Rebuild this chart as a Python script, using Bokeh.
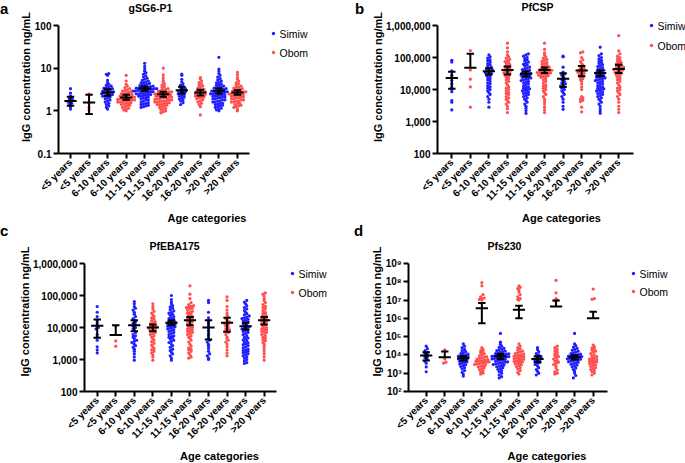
import math
from bokeh.plotting import figure
from bokeh.models import Range1d, FixedTicker, Title, Div
from bokeh.core.properties import value
from bokeh.layouts import column, row
from bokeh.embed import file_html
from bokeh.resources import INLINE

# ---------------- data ----------------
age_labels = ["<5 years", "<5 years", "6-10 years", "6-10 years", "11-15 years",
              "11-15 years", "16-20 years", "16-20 years", ">20 years", ">20 years"]
series_names = ["Simiw", "Obom"]

# gSG6-P1 (ng/mL); per age group: <5, 6-10, 11-15, 16-20, >20
gsg6_simiw = [
    [3.3, 2.6, 2.2, 2.0, 1.9, 1.8, 1.7, 1.6, 1.5, 1.4, 1.25, 1.1],
    [7.5, 7.2, 6.8, 5.2, 4.6, 4.2, 4.0, 3.8, 3.6, 3.5, 3.4, 3.3, 3.2, 3.1, 3.0, 2.9, 2.8, 2.8, 2.7,
     2.6, 2.6, 2.5, 2.4, 2.4, 2.3, 2.2, 2.2, 2.1, 2.0, 1.9, 1.8, 1.7, 1.6, 1.5, 1.4, 1.3, 1.2, 1.1],
    [13, 11, 9.5, 8.5, 7.8, 7.2, 6.6, 6.2, 5.8, 5.5, 5.2, 5.0, 4.8, 4.6, 4.5, 4.4, 4.2, 4.1, 4.0,
     3.9, 3.8, 3.7, 3.6, 3.6, 3.5, 3.5, 3.4, 3.4, 3.3, 3.3, 3.2, 3.2, 3.1, 3.1, 3.0, 3.0, 3.0, 2.9,
     2.9, 2.8, 2.8, 2.7, 2.7, 2.6, 2.6, 2.5, 2.5, 2.4, 2.4, 2.3, 2.3, 2.2, 2.2, 2.1, 2.0, 2.0, 1.9,
     1.8, 1.8, 1.7, 1.6, 1.55, 1.5, 1.45, 1.4, 1.35, 1.3, 1.25, 1.2],
    [7.3, 6.8, 5.5, 4.8, 4.3, 4.0, 3.7, 3.5, 3.3, 3.2, 3.0, 2.9, 2.8, 2.7, 2.6, 2.5, 2.4, 2.3, 2.2,
     2.1, 2.0, 1.9, 1.8, 1.7, 1.55, 1.4],
    [18, 9.5, 8.5, 7.5, 6.8, 6.2, 5.7, 5.3, 5.0, 4.7, 4.5, 4.3, 4.1, 4.0, 3.8, 3.7, 3.6, 3.5, 3.4,
     3.3, 3.2, 3.1, 3.0, 3.0, 2.9, 2.9, 2.8, 2.8, 2.7, 2.7, 2.6, 2.6, 2.5, 2.5, 2.4, 2.4, 2.3, 2.3,
     2.2, 2.2, 2.1, 2.1, 2.0, 2.0, 1.9, 1.9, 1.8, 1.8, 1.7, 1.7, 1.6, 1.6, 1.5, 1.5, 1.45, 1.4,
     1.35, 1.3, 1.25, 1.2, 1.15, 1.1, 1.05, 1.0],
]
gsg6_obom = [
    [2.5, 1.5, 1.2, 1.05],
    [6.8, 5.0, 4.2, 3.8, 3.5, 3.3, 3.1, 3.0, 2.9, 2.8, 2.7, 2.6, 2.5, 2.5, 2.4, 2.4, 2.3, 2.3, 2.2,
     2.2, 2.1, 2.1, 2.0, 2.0, 1.95, 1.9, 1.9, 1.85, 1.8, 1.8, 1.75, 1.7, 1.7, 1.65, 1.6, 1.6, 1.55,
     1.5, 1.5, 1.45, 1.4, 1.35, 1.3, 1.25, 1.2, 1.15, 1.1, 1.05, 1.0],
    [10, 7.0, 6.0, 5.2, 4.7, 4.3, 4.0, 3.7, 3.5, 3.3, 3.2, 3.1, 3.0, 2.9, 2.8, 2.8, 2.7, 2.7, 2.6,
     2.6, 2.5, 2.5, 2.4, 2.4, 2.3, 2.3, 2.2, 2.2, 2.2, 2.1, 2.1, 2.0, 2.0, 2.0, 1.9, 1.9, 1.85, 1.8,
     1.8, 1.75, 1.7, 1.7, 1.65, 1.6, 1.6, 1.55, 1.5, 1.5, 1.45, 1.4, 1.4, 1.35, 1.3, 1.25, 1.2, 1.15,
     1.1, 1.05, 1.0, 0.95, 0.9],
    [6.0, 5.6, 5.0, 4.6, 4.3, 4.0, 3.8, 3.6, 3.4, 3.2, 3.1, 3.0, 2.9, 2.8, 2.7, 2.6, 2.6, 2.5, 2.4,
     2.4, 2.3, 2.2, 2.2, 2.1, 2.0, 2.0, 1.9, 1.8, 1.7, 1.6, 1.5, 1.4, 1.25, 0.8],
    [8.0, 7.0, 6.0, 5.5, 5.0, 4.6, 4.3, 4.0, 3.8, 3.6, 3.5, 3.4, 3.3, 3.2, 3.1, 3.0, 2.9, 2.8, 2.8,
     2.7, 2.7, 2.6, 2.6, 2.5, 2.5, 2.4, 2.4, 2.3, 2.3, 2.2, 2.2, 2.1, 2.1, 2.0, 2.0, 1.9, 1.9, 1.8,
     1.8, 1.7, 1.7, 1.6, 1.6, 1.5, 1.5, 1.4, 1.35, 1.3, 1.25, 1.2, 1.1, 1.0],
]
gsg6_mean = [1.71, 1.57, 2.69, 2.05, 3.33, 2.46, 3.05, 2.69, 2.94, 2.69]
gsg6_lo = [1.31, 0.84, 2.25, 1.81, 2.94, 2.13, 2.55, 2.29, 2.55, 2.37]
gsg6_hi = [2.13, 2.37, 3.2, 2.37, 3.7, 2.79, 3.65, 3.1, 3.33, 3.05]

# PfCSP
csp_simiw = [
    [82000, 72000, 38000, 28000, 24000, 19000, 15000, 12000, 10000, 8500, 4500, 4000, 2300],
    [120000, 105000, 95000, 85000, 80000, 72000, 65000, 60000, 55000, 50000, 47000, 44000, 41000,
     38000, 36000, 34000, 32000, 30000, 28000, 26000, 24000, 22000, 20000, 18000, 16000, 15000,
     13000, 12000, 11000, 10000, 9000, 8000, 7000, 6000, 5000, 4000, 2800],
    [130000, 120000, 110000, 100000, 92000, 85000, 78000, 72000, 66000, 62000, 58000, 54000, 50000,
     47000, 44000, 42000, 40000, 38000, 36000, 34000, 32000, 31000, 30000, 29000, 28000, 27000,
     26000, 25000, 24000, 23000, 22000, 21000, 20000, 19000, 18000, 17000, 16000, 15000, 14000,
     13000, 12000, 11500, 11000, 10500, 10000, 9500, 9000, 8500, 8000, 7500, 7000, 6500, 6000,
     5500, 5000, 4500, 4000, 3500, 3000, 2600, 2200, 1800],
    [110000, 105000, 50000, 35000, 30000, 28000, 25000, 22000, 20000, 18000, 16000, 15000, 14000,
     13000, 12000, 11000, 10000, 9000, 8000, 7000, 6000, 5000, 4000, 3000, 2400],
    [210000, 130000, 115000, 100000, 90000, 82000, 75000, 70000, 65000, 60000, 56000, 52000, 48000,
     45000, 42000, 40000, 38000, 36000, 34000, 32000, 30000, 29000, 28000, 27000, 26000, 25000,
     24000, 23000, 22000, 21000, 20000, 19000, 18000, 17000, 16000, 15000, 14000, 13000, 12000,
     11500, 11000, 10500, 10000, 9500, 9000, 8500, 8000, 7500, 7000, 6500, 6000, 5500, 5000, 4500,
     4000, 3500, 3000, 2500, 2100, 1800],
]
csp_obom = [
    [165000, 41000, 21000, 12000, 2800],
    [280000, 200000, 150000, 120000, 105000, 95000, 88000, 80000, 75000, 70000, 65000, 60000, 56000,
     52000, 48000, 45000, 42000, 40000, 38000, 36000, 34000, 32000, 30000, 28000, 26000, 24000,
     22000, 20000, 18000, 16000, 14000, 12000, 11000, 10000, 9000, 8000, 7500, 7000, 6000, 5500,
     5000, 4500, 4000, 3500, 3000, 2500, 1900],
    [280000, 180000, 140000, 120000, 105000, 95000, 88000, 82000, 76000, 70000, 66000, 62000, 58000,
     55000, 52000, 50000, 48000, 46000, 44000, 42000, 40000, 39000, 38000, 37000, 36000, 35000,
     34000, 33000, 32000, 31000, 30000, 29000, 28000, 27000, 26000, 25000, 24000, 22000, 20000,
     18000, 16000, 14000, 13000, 12000, 11000, 10000, 9000, 8000, 7000, 6000, 5000, 4200, 3500,
     2800, 2300, 1900],
    [150000, 140000, 100000, 85000, 75000, 65000, 58000, 52000, 48000, 45000, 42000, 40000, 38000,
     36000, 34000, 32000, 30000, 28000, 26000, 24000, 22000, 20000, 18000, 15000, 12000, 10000,
     6000, 5500, 5000, 4600, 4200, 2800, 2000],
    [480000, 160000, 130000, 110000, 100000, 90000, 82000, 76000, 70000, 66000, 62000, 58000, 55000,
     52000, 50000, 48000, 46000, 44000, 42000, 40000, 38000, 36000, 34000, 32000, 30000, 28000,
     26000, 24000, 22000, 20000, 18000, 16000, 14000, 12000, 11000, 10000, 9000, 8000, 7000, 6000,
     5000, 4000, 3000, 2400, 1900],
]
csp_mean = [23000, 48000, 37500, 41000, 31000, 41000, 21500, 39000, 32500, 44000]
csp_lo = [10500, None, 29500, 29500, 25500, 33000, 12000, 26000, 26000, 33000]
csp_hi = [36000, 130000, 46000, 52000, 36500, 49000, 32000, 54000, 39000, 59000]

# PfEBA175
eba_simiw = [
    [45000, 30000, 22000, 17000, 14000, 12000, 10000, 9000, 6000, 5000, 4000, 2500, 2000, 1600],
    [65000, 55000, 45000, 40000, 35000, 30000, 26000, 22000, 19000, 17000, 15000, 13500, 12000,
     11000, 10000, 9000, 8000, 7000, 6000, 5500, 5000, 4500, 4000, 3700, 3400, 3000, 2700, 2400,
     2100, 1800, 1500, 1200, 950],
    [100000, 75000, 62000, 55000, 48000, 44000, 40000, 36000, 33000, 30000, 28000, 26000, 24000,
     22000, 20000, 19000, 18000, 17000, 16000, 15000, 14000, 13500, 13000, 12500, 12000, 11500,
     11000, 10500, 10000, 9500, 9000, 8500, 8000, 7500, 7000, 6500, 6000, 5500, 5200, 5000, 4700,
     4400, 4000, 3700, 3400, 3000, 2700, 2400, 2100, 1900, 1700, 1500, 1300, 1100, 950],
    [70000, 60000, 30000, 20000, 16000, 14000, 12000, 10000, 8000, 6500, 5500, 4500, 4000, 3500,
     3000, 2600, 2200, 1800, 1500, 1300, 1100, 1000],
    [70000, 62000, 55000, 48000, 42000, 38000, 34000, 30000, 27000, 25000, 23000, 21000, 20000,
     19000, 18000, 17000, 16000, 15000, 14000, 13000, 12000, 11000, 10500, 10000, 9500, 9000, 8500,
     8000, 7500, 7000, 6500, 6000, 5500, 5000, 4700, 4400, 4100, 3800, 3500, 3300, 3100, 2900,
     2700, 2500, 2300, 2100, 2000, 1900, 1800, 1700, 1600, 1500, 1400, 1300, 1200, 1100, 1000, 900,
     800, 750],
]
eba_obom = [
    [11000, 3800, 2600],
    [55000, 45000, 38000, 32000, 28000, 25000, 22000, 20000, 18000, 16500, 15000, 14000, 13000,
     12000, 11500, 11000, 10500, 10000, 9500, 9000, 8500, 8000, 7500, 7000, 6500, 6000, 5500, 5000,
     4500, 4000, 3600, 3200, 2800, 2500, 2200, 2000, 1800, 1600, 1400, 1200, 950],
    [200000, 110000, 80000, 60000, 52000, 48000, 46000, 44000, 42000, 40000, 38000, 35000, 32000,
     30000, 28000, 26000, 24000, 22000, 20000, 19000, 18000, 17000, 16000, 15000, 14000, 13000,
     12000, 11000, 10000, 9500, 9000, 8500, 8000, 7500, 7000, 6500, 6000, 5500, 5000, 4500, 4000,
     3500, 3000, 2600, 2300, 2100, 2000, 1800, 1600, 1400, 1200, 1100],
    [90000, 70000, 45000, 35000, 28000, 24000, 21000, 19000, 17000, 15000, 14000, 13000, 12000,
     11000, 10000, 9000, 8500, 8000, 7500, 7000, 6000, 5000, 4500, 4000, 3500, 3000, 2500, 2000,
     1600, 1300],
    [120000, 110000, 95000, 80000, 70000, 60000, 52000, 46000, 42000, 38000, 34000, 30000, 28000,
     26000, 24000, 22000, 20000, 19000, 18000, 17000, 16000, 15000, 14000, 13000, 12000, 11000,
     10000, 9500, 9000, 8500, 8000, 7500, 7000, 6500, 6000, 5500, 5000, 4600, 4200, 3800, 3400,
     3000, 2600, 2200, 1800, 1500, 1200, 950],
]
eba_mean = [11300, 5800, 11800, 10000, 14000, 16900, 10000, 14000, 11000, 16900]
eba_lo = [4800, None, 7700, 7700, 11800, 11800, 4200, 7300, 8700, 12400]
eba_hi = [17700, 11800, 16900, 12400, 16500, 21400, 16900, 20000, 14000, 21400]

# Pfs230
s230_simiw = [
    [30000, 22000, 17000, 14000, 12000, 10000, 9000, 8000, 7000, 5500, 4500, 3500, 2200, 1200],
    [40000, 30000, 25000, 20000, 17000, 15000, 13000, 12000, 11000, 10000, 9500, 9000, 8500, 8000,
     7500, 7000, 6500, 6000, 5500, 5000, 4700, 4400, 4100, 3800, 3500, 3200, 2900, 2600, 2300,
     2000, 1700, 1400, 1100, 900, 700],
    [150000, 50000, 38000, 30000, 26000, 23000, 21000, 19000, 17000, 16000, 15000, 14000, 13000,
     12000, 11500, 11000, 10500, 10000, 9500, 9000, 8700, 8400, 8100, 7800, 7500, 7200, 6900, 6600,
     6300, 6000, 5700, 5400, 5100, 4800, 4500, 4200, 4000, 3800, 3600, 3400, 3200, 3000, 2800,
     2600, 2400, 2200, 2000, 1800, 1600, 1400, 1200, 1000, 800, 650, 550],
    [25000, 20000, 15000, 12000, 10000, 9000, 8000, 7000, 6500, 6000, 5500, 5000, 4500, 4000, 3500,
     3000, 2500, 2000, 1600, 1300, 1000, 800],
    [150000, 40000, 32000, 27000, 23000, 20000, 18000, 16000, 14500, 13000, 12000, 11000, 10500,
     10000, 9500, 9000, 8600, 8200, 7800, 7400, 7000, 6700, 6400, 6100, 5800, 5500, 5200, 4900,
     4600, 4300, 4000, 3700, 3400, 3100, 2800, 2500, 2200, 1900, 1600, 1300, 1000, 750, 550],
]
s230_obom = [
    [19000, 6000, 4000, 3600],
    [90000000, 60000000, 20000000, 15000000, 13000000, 12000000, 11000000, 10000000,
     25000, 20000, 17000, 15000, 13000, 11500, 10000, 9000, 8000, 7500, 7000, 6500, 6000, 5500,
     5200, 5000, 4800, 4600, 4400, 4200, 4000, 3800, 3600, 3400, 3200, 3000, 2800, 2600, 2400,
     2200, 2000, 1800, 1600, 1400, 1200, 1000, 900],
    [60000000, 50000000, 42000000, 35000000, 28000000, 20000000, 15000000, 12000000, 11000000,
     10000000, 40000, 30000, 25000, 21000, 18000, 16000, 14500, 13000, 12000, 11000, 10000, 9500,
     9000, 8500, 8000, 7500, 7000, 6600, 6200, 5800, 5400, 5000, 4700, 4400, 4100, 3800, 3500,
     3200, 2900, 2600, 2300, 2000, 1700, 1400, 1100, 900],
    [120000000, 25000000, 12000000, 10000000, 9000000, 30000, 25000, 20000, 17000, 14000, 12000,
     10000, 9000, 8000, 7000, 6000, 5000, 4500, 4000, 3500, 3000, 2500, 2000, 1500, 1200, 1000, 900],
    [40000000, 12000000, 11000000, 35000, 28000, 24000, 21000, 18000, 16000, 14000, 12000, 10000,
     9000, 8000, 7000, 6500, 6000, 5500, 5000, 4700, 4400, 4100, 3800, 3500, 3200, 2900, 2600,
     2300, 2000, 1800, 1600, 1400, 1200, 1000, 800],
]
s230_mean = [9200, 7500, 6600, 3600000, 8400, 3000000, 6000, 4500000, 7500, 1000000]
s230_lo = [4900, None, 4900, 540000, 6000, 1000000, 4000, None, 5600, None]
s230_hi = [14000, 15200, 8400, 6900000, 11300, 4900000, 8400, 9600000, 9600, 2300000]

gsg6_ticks = [0.1, 1, 10, 100]
gsg6_tick_labels = ["0.1", "1", "10", "100"]
big_ticks = [100, 1000, 10000, 100000, 1000000]
big_tick_labels = ["100", "1,000", "10,000", "100,000", "1,000,000"]
s230_ticks = [1e2, 1e3, 1e4, 1e5, 1e6, 1e7, 1e8, 1e9]
s230_tick_labels = ["10²", "10³", "10⁴", "10⁵", "10⁶", "10⁷", "10⁸", "10⁹"]

# ---------------- styling / layout ----------------
FONT = "Liberation Sans"
BLUE = "#1f1fff"
RED = "#ff4f4f"
PPU = 18.55  # px per category


def swarm(values, center, ylog0, ppd, row_px=2.7, dx_px=2.4):
    """Prism-like scatter-dot layout: points in the same pixel row are spread sideways."""
    bins = {}
    for v in values:
        ypx = (math.log10(v) - ylog0) * ppd
        bins.setdefault(int(ypx // row_px), []).append(v)
    xs, ys = [], []
    for k in sorted(bins):
        grp = sorted(bins[k])
        n = len(grp)
        for i, v in enumerate(grp):
            xs.append(center + (i - (n - 1) / 2.0) * dx_px / PPU)
            ys.append(v)
    return xs, ys


def make_panel(c):
    fx, fy = c["fig_xy"]            # page position of the canvas
    w, h = c["size"]
    bl, bb = c["border_lb"]
    f_left, f_right = fx + bl, fx + w
    f_top, f_bottom = fy, fy + h - bb
    ticks, tlabels = c["yticks"]
    ylo, yhi = ticks[0], ticks[-1]
    ppd = (f_bottom - c["yhi_page"]) / (math.log10(yhi) - math.log10(ylo))
    x0 = 1 - (c["tick1_page"] - f_left) / PPU
    x1 = x0 + (f_right - f_left) / PPU
    xaxis_end = 1 + (c["axis_end_page"] - c["tick1_page"]) / PPU
    y_end = 10 ** (math.log10(yhi) + (c["yhi_page"] - f_top) / ppd)

    def to_data(px, py):
        return x0 + (px - f_left) / PPU, 10 ** (math.log10(ylo) + (f_bottom - py) / ppd)

    p = figure(width=w, height=h, x_range=Range1d(x0, x1), y_range=Range1d(ylo, y_end),
               y_axis_type="log", output_backend="svg", toolbar_location=None,
               min_border_left=bl, min_border_right=0, min_border_top=0, min_border_bottom=bb)
    p.outline_line_color = None
    p.xgrid.visible = False
    p.ygrid.visible = False

    for ax in (p.xaxis[0], p.yaxis[0]):
        ax.axis_line_width = 2
        ax.axis_line_color = "black"
        ax.major_tick_line_width = 2
        ax.major_tick_line_color = "black"
        ax.major_tick_out = 5
        ax.major_tick_in = 0
        ax.minor_tick_line_color = None
        ax.major_label_text_font = FONT
        ax.major_label_text_font_style = "bold"
        ax.major_label_text_font_size = "10px"
        ax.major_label_text_color = "black"
        ax.major_label_standoff = 2

    p.xaxis.ticker = FixedTicker(ticks=list(range(1, 11)))
    p.xaxis.major_label_overrides = {i + 1: lab for i, lab in enumerate(age_labels)}
    p.xaxis.major_label_orientation = math.pi / 4
    p.xaxis.bounds = (x0, xaxis_end)
    p.yaxis.ticker = FixedTicker(ticks=[float(t) for t in ticks])
    p.yaxis.major_label_overrides = {float(t): lab for t, lab in zip(ticks, tlabels)}
    p.yaxis.bounds = (ylo, yhi)

    # axis titles
    p.add_layout(Title(text="IgG concentration ng/mL", align="center", offset=c["ylab_off"],
                       standoff=0, text_font=FONT, text_font_style="bold",
                       text_font_size="11px", text_color="black"), "left")
    p.add_layout(Title(text="Age categories", align="center", offset=c["xlab_off"],
                       standoff=0, text_font=FONT, text_font_style="bold",
                       text_font_size="11px", text_color="black"), "below")

    # points
    for s_idx, (groups, color) in enumerate(((c["simiw"], BLUE), (c["obom"], RED))):
        xs_all, ys_all = [], []
        for g_idx, vals in enumerate(groups):
            xs, ys = swarm(vals, 1 + 2 * g_idx + s_idx, math.log10(ylo), ppd)
            xs_all += xs
            ys_all += ys
        p.scatter(x=xs_all, y=ys_all, marker="circle", size=3.2, fill_color=color,
                  line_color=None)

    # mean with 95% CI
    mean, lo, hi = c["stats"]
    mx0, mx1, my, vx, vy0, vy1, cx0, cx1, cy = [], [], [], [], [], [], [], [], []
    for i in range(10):
        cc = i + 1
        mx0.append(cc - 0.33); mx1.append(cc + 0.33); my.append(mean[i])
        vx.append(cc); vy0.append(lo[i] if lo[i] is not None else mean[i]); vy1.append(hi[i])
        cx0.append(cc - 0.2); cx1.append(cc + 0.2); cy.append(hi[i])
        if lo[i] is not None:
            cx0.append(cc - 0.2); cx1.append(cc + 0.2); cy.append(lo[i])
    p.segment(x0=mx0, x1=mx1, y0=my, y1=my, line_color="black", line_width=2)
    p.segment(x0=vx, x1=vx, y0=vy0, y1=vy1, line_color="black", line_width=2)
    p.segment(x0=cx0, x1=cx1, y0=cy, y1=cy, line_color="black", line_width=2)

    # panel title
    tx, ty = to_data(*c["title_page"])
    p.text(x=[tx], y=[ty], text=[c["title"]], text_font=value(FONT),
           text_font_size=value("10.5px"), text_font_style="bold", text_color="black",
           text_align="center", text_baseline="middle")

    # legend (marker + label)
    gx, gy1, gy2 = c["legend_page"]
    lx, ly = [], []
    for py in (gy1, gy2):
        dx_, dy_ = to_data(gx, py)
        lx.append(dx_)
        ly.append(dy_)
    p.scatter(x=[lx[0]], y=[ly[0]], marker="circle", size=3.4, fill_color=BLUE, line_color=None)
    p.scatter(x=[lx[1]], y=[ly[1]], marker="circle", size=3.4, fill_color=RED, line_color=None)
    tx0, _ = to_data(gx + 6, gy1)
    p.text(x=[tx0, tx0], y=ly, text=series_names, text_font=value(FONT),
           text_font_size=value("10.5px"), text_color="black", text_align="left",
           text_baseline="middle")
    return p


def letter(t, line_height):
    return Div(text=t, width=14, styles={"font-family": FONT, "font-weight": "bold",
                                         "font-size": "15px", "line-height": line_height,
                                         "color": "black", "margin": "0", "padding": "0"})


pa = make_panel(dict(fig_xy=(14, 0), size=(341, 231), border_lb=(44, 78), tick1_page=70.0,
                     axis_end_page=249, yhi_page=25, yticks=(gsg6_ticks, gsg6_tick_labels),
                     simiw=gsg6_simiw, obom=gsg6_obom, stats=(gsg6_mean, gsg6_lo, gsg6_hi),
                     title="gSG6-P1", title_page=(150, 7), legend_page=(273, 33, 52),
                     ylab_off=-14.5, xlab_off=-52.5))
pb = make_panel(dict(fig_xy=(369, 0), size=(316, 231), border_lb=(68, 78), tick1_page=451.3,
                     axis_end_page=633, yhi_page=25, yticks=(big_ticks, big_tick_labels),
                     simiw=csp_simiw, obom=csp_obom, stats=(csp_mean, csp_lo, csp_hi),
                     title="PfCSP", title_page=(537, 6), legend_page=(651, 25, 45),
                     ylab_off=-14.5, xlab_off=-27))
pc = make_panel(dict(fig_xy=(14, 231), size=(340, 232), border_lb=(70, 72), tick1_page=96.7,
                     axis_end_page=276, yhi_page=263, yticks=(big_ticks, big_tick_labels),
                     simiw=eba_simiw, obom=eba_obom, stats=(eba_mean, eba_lo, eba_hi),
                     title="PfEBA175", title_page=(174, 245), legend_page=(292, 273, 292),
                     ylab_off=-9.5, xlab_off=-39))
pd_ = make_panel(dict(fig_xy=(368, 231), size=(317, 232), border_lb=(40, 72), tick1_page=425.7,
                      axis_end_page=607, yhi_page=263, yticks=(s230_ticks, s230_tick_labels),
                      simiw=s230_simiw, obom=s230_obom, stats=(s230_mean, s230_lo, s230_hi),
                      title="Pfs230", title_page=(504, 245), legend_page=(633, 273, 291),
                      ylab_off=-12, xlab_off=-36.5))

layout = column(row(letter("a", "17px"), pa, letter("b", "17px"), pb),
                row(letter("c", "0px"), pc, letter("d", "0px"), pd_))
open("out.html", "w").write(file_html(layout, INLINE))
